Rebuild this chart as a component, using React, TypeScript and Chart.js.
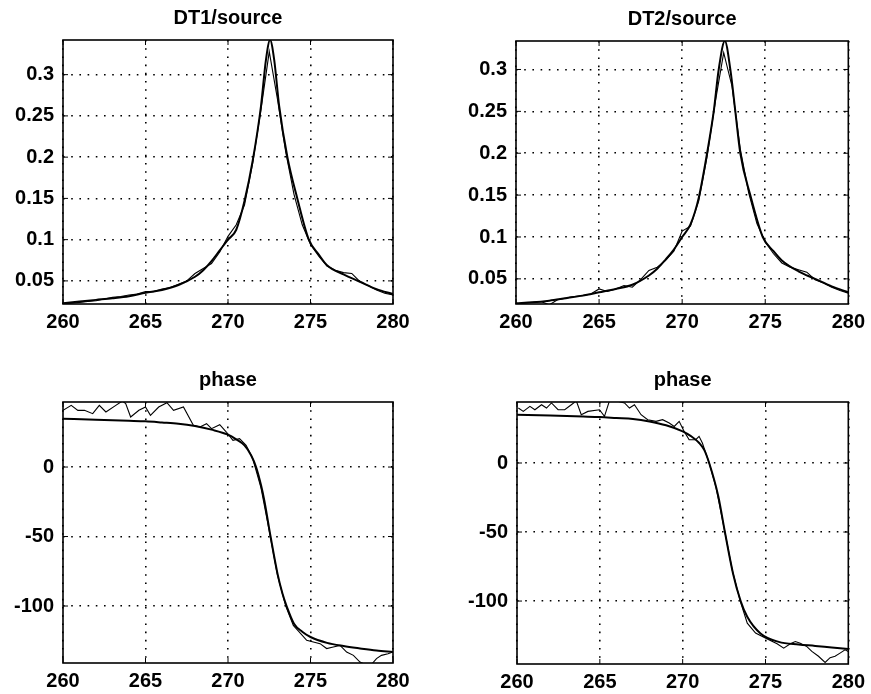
import React, { useEffect, useRef } from "react";
import { Chart, registerables } from "chart.js";

Chart.register(...registerables);

// ---------- tick values / labels ----------
const xTickValues = [260, 265, 270, 275, 280];
const xTickLabels = ["260", "265", "270", "275", "280"];
const ampTickValues = [0.05, 0.1, 0.15, 0.2, 0.25, 0.3];
const ampTickLabels = ["0.05", "0.1", "0.15", "0.2", "0.25", "0.3"];
const phaseTickValues = [-100, -50, 0];
const phaseTickLabels = ["-100", "-50", "0"];

// ---------- DT1/source ----------
const dt1FitX = [260, 261, 262, 263, 264, 265, 266, 267, 268, 268.5, 269, 269.5, 270, 270.5, 271, 271.5, 272, 272.3, 272.55, 272.8, 273.1, 273.6, 274.2, 274.9, 275.5, 276, 277, 278, 279, 280];
const dt1FitY = [0.023, 0.025, 0.027, 0.029, 0.0315, 0.0355, 0.039, 0.045, 0.055, 0.063, 0.074, 0.087, 0.1, 0.112, 0.147, 0.196, 0.262, 0.318, 0.342, 0.318, 0.262, 0.2, 0.15, 0.1, 0.082, 0.069, 0.058, 0.049, 0.04, 0.034];
const dt1MeasX = [260, 260.5, 261, 261.5, 262, 262.5, 263, 263.5, 264, 264.5, 265, 265.5, 266, 266.5, 267, 267.5, 268, 268.5, 269, 269.5, 270, 270.5, 271, 271.5, 272, 272.5, 273, 273.5, 274, 274.5, 275, 275.5, 276, 276.5, 277, 277.5, 278, 278.5, 279, 279.5, 280];
const dt1MeasY = [0.022, 0.023, 0.024, 0.025, 0.026, 0.028, 0.03, 0.031, 0.033, 0.034, 0.037, 0.037, 0.04, 0.042, 0.046, 0.05, 0.059, 0.065, 0.071, 0.085, 0.104, 0.118, 0.142, 0.193, 0.258, 0.328, 0.27, 0.206, 0.155, 0.118, 0.094, 0.08, 0.068, 0.063, 0.06, 0.059, 0.049, 0.044, 0.039, 0.035, 0.033];

// ---------- DT2/source ----------
const dt2FitX = [260, 261, 262, 263, 264, 265, 266, 267, 268, 268.5, 269, 269.5, 270, 270.5, 271, 271.5, 271.9, 272.2, 272.57, 272.9, 273.2, 273.5, 274.1, 274.85, 275.5, 276, 277, 278, 279, 280];
const dt2FitY = [0.021, 0.022, 0.024, 0.027, 0.03, 0.034, 0.038, 0.043, 0.054, 0.062, 0.073, 0.085, 0.1, 0.115, 0.147, 0.2, 0.25, 0.3, 0.334, 0.3, 0.25, 0.2, 0.15, 0.1, 0.083, 0.072, 0.059, 0.05, 0.041, 0.034];
const dt2MeasX = [260, 260.5, 261, 261.5, 262, 262.5, 263, 263.5, 264, 264.5, 265, 265.5, 266, 266.5, 267, 267.5, 268, 268.5, 269, 269.5, 270, 270.5, 271, 271.5, 272, 272.5, 273, 273.5, 274, 274.5, 275, 275.5, 276, 276.5, 277, 277.5, 278, 278.5, 279, 279.5, 280];
const dt2MeasY = [0.02, 0.021, 0.022, 0.023, 0.019, 0.025, 0.027, 0.029, 0.03, 0.032, 0.038, 0.035, 0.038, 0.042, 0.04, 0.049, 0.06, 0.064, 0.072, 0.083, 0.107, 0.113, 0.143, 0.196, 0.262, 0.32, 0.28, 0.205, 0.153, 0.116, 0.094, 0.08, 0.069, 0.064, 0.061, 0.058, 0.049, 0.045, 0.04, 0.036, 0.033];

// ---------- phase (left) ----------
const ph1FitX = [260, 262, 264, 265, 266, 267, 268, 269, 270, 270.5, 271, 271.4, 271.7, 272, 272.2, 272.58, 273, 273.3, 273.55, 274, 274.5, 275, 276, 277, 278, 279, 280];
const ph1FitY = [34.8, 34.0, 33.3, 32.9, 32.1, 31.2, 29.5, 26.9, 23.3, 19.9, 15.6, 8.5, 0, -13, -24, -50, -76.7, -91, -100, -112.7, -118.5, -122.3, -126.5, -128.8, -130.5, -132, -133];
const ph1MeasX = [260, 260.5, 260.9, 261.3, 261.8, 262.2, 262.6, 263.2, 263.6, 263.8, 264.1, 264.6, 265, 265.3, 265.8, 266.3, 266.7, 267.3, 267.9, 268.3, 268.7, 269, 269.5, 269.9, 270.3, 270.7, 271.1, 271.5, 272, 272.5, 273, 273.5, 273.96, 274.77, 275.58, 275.98, 276.38, 276.79, 277.19, 277.6, 278, 278.3, 278.7, 279, 279.3, 279.7, 280];
const ph1MeasY = [40.8, 44.4, 40.8, 40.8, 38.4, 44.4, 39.6, 44.4, 47.5, 45.6, 36.0, 40.8, 43.2, 37.2, 43.2, 46.3, 40.8, 43.2, 30.0, 28.8, 31.2, 27.6, 30.5, 25.2, 19.2, 20.4, 15.6, 6.0, -15, -46, -78, -100, -113.9, -124.7, -127.1, -130.6, -129.5, -128.3, -133.1, -135.5, -140.3, -142, -142, -137.8, -135.5, -134.3, -133.1];

// ---------- phase (right) ----------
const ph2FitX = [260, 262, 264, 265, 266, 267, 268, 269, 270, 270.5, 271, 271.3, 271.6, 272.15, 272.55, 273.04, 273.5, 273.9, 274.7, 275.8, 277, 278, 279, 280];
const ph2FitY = [35, 34.4, 33.7, 33.3, 32.6, 31.9, 30.1, 27.3, 22.9, 19.5, 14.5, 9.5, 0, -24, -50, -80, -100, -111.4, -123.5, -129.6, -131.5, -132.5, -133.7, -134.8];
const ph2MeasX = [260.08, 260.38, 260.78, 261.08, 261.48, 261.78, 262.08, 262.48, 262.88, 263.28, 263.58, 263.88, 264.28, 264.98, 265.28, 265.58, 265.98, 266.49, 266.79, 267.09, 267.49, 267.89, 268.39, 268.79, 269.19, 269.49, 269.79, 270.09, 270.39, 270.79, 270.99, 271.19, 271.6, 272, 272.5, 273, 273.5, 273.9, 274.4, 275.2, 275.7, 276.1, 276.5, 276.8, 277.1, 277.5, 277.8, 278.2, 278.6, 278.9, 279.2, 279.5, 279.8, 280];
const ph2MeasY = [39.8, 37.4, 41, 38.6, 42.2, 39.8, 43.5, 38.6, 38.6, 42.2, 45, 35, 37.4, 38.6, 33.8, 45, 45, 43.5, 39.8, 42.2, 35, 31.4, 30.2, 31.4, 29, 26.5, 30.2, 22.9, 16.9, 16.9, 19.3, 14.5, 0, -17, -47, -78, -101, -116, -123.2, -128, -131, -134.1, -131, -129.3, -130.5, -133, -136.5, -140, -144.5, -141, -140, -137.7, -135.3, -136.5];

const FONT_FAMILY = '"Liberation Sans", Arial, Helvetica, sans-serif';
const FONT_SIZE = 20;
const FONT_WEIGHT = "bold";
const Y_AXIS_W = 55;
const X_AXIS_H = 28;

type Panel = {
  key: string;
  left: number;
  top: number;
  width: number;
  height: number;
  padding: { left: number; top: number; right: number; bottom: number };
  title: string;
  yMin: number;
  yMax: number;
  yTicks: number[];
  yLabels: string[];
  fitX: number[];
  fitY: number[];
  measX: number[];
  measY: number[];
};

const panels: Panel[] = [
  {
    key: "tl", left: 0, top: 0, width: 435, height: 347,
    padding: { left: 8, top: 40, right: 42, bottom: 15 },
    title: "DT1/source", yMin: 0.022, yMax: 0.342,
    yTicks: ampTickValues, yLabels: ampTickLabels,
    fitX: dt1FitX, fitY: dt1FitY, measX: dt1MeasX, measY: dt1MeasY,
  },
  {
    key: "tr", left: 435, top: 0, width: 436, height: 347,
    padding: { left: 26, top: 41, right: 22, bottom: 15 },
    title: "DT2/source", yMin: 0.02, yMax: 0.334,
    yTicks: ampTickValues, yLabels: ampTickLabels,
    fitX: dt2FitX, fitY: dt2FitY, measX: dt2MeasX, measY: dt2MeasY,
  },
  {
    key: "bl", left: 0, top: 347, width: 435, height: 347,
    padding: { left: 8, top: 55, right: 42, bottom: 3 },
    title: "phase", yMin: -141, yMax: 46.8,
    yTicks: phaseTickValues, yLabels: phaseTickLabels,
    fitX: ph1FitX, fitY: ph1FitY, measX: ph1MeasX, measY: ph1MeasY,
  },
  {
    key: "br", left: 435, top: 347, width: 436, height: 347,
    padding: { left: 27, top: 55, right: 21, bottom: 2 },
    title: "phase", yMin: -145.6, yMax: 44.2,
    yTicks: phaseTickValues, yLabels: phaseTickLabels,
    fitX: ph2FitX, fitY: ph2FitY, measX: ph2MeasX, measY: ph2MeasY,
  },
];

function labelFor(values: number[], labels: string[], v: number): string {
  for (let i = 0; i < values.length; i++) {
    if (Math.abs(values[i] - v) < 1e-9) return labels[i];
  }
  return "";
}

function PanelChart({ p }: { p: Panel }) {
  const ref = useRef<HTMLCanvasElement | null>(null);

  useEffect(() => {
    const canvas = ref.current;
    if (!canvas) return;

    const framePlugin = {
      id: "frame_" + p.key,
      afterDatasetsDraw(chart: any) {
        const { ctx, chartArea } = chart;
        const { left, top, right, bottom } = chartArea;
        ctx.save();
        ctx.strokeStyle = "#000";
        ctx.lineWidth = 1.6;
        ctx.setLineDash([]);
        ctx.strokeRect(left, top, right - left, bottom - top);
        const tl = 5;
        ctx.lineWidth = 1;
        const xs = chart.scales.x;
        const ys = chart.scales.y;
        ctx.beginPath();
        xTickValues.forEach((v) => {
          const px = xs.getPixelForValue(v);
          ctx.moveTo(px, bottom);
          ctx.lineTo(px, bottom - tl);
          ctx.moveTo(px, top);
          ctx.lineTo(px, top + tl);
        });
        p.yTicks.forEach((v) => {
          const py = ys.getPixelForValue(v);
          ctx.moveTo(left, py);
          ctx.lineTo(left + tl, py);
          ctx.moveTo(right, py);
          ctx.lineTo(right - tl, py);
        });
        ctx.stroke();
        ctx.restore();
      },
    };

    const titlePlugin = {
      id: "ttl_" + p.key,
      afterDraw(chart: any) {
        const { ctx, chartArea } = chart;
        ctx.save();
        ctx.fillStyle = "#000";
        ctx.font = `${FONT_WEIGHT} ${FONT_SIZE}px ${FONT_FAMILY}`;
        ctx.textAlign = "center";
        ctx.textBaseline = "alphabetic";
        ctx.fillText(p.title, (chartArea.left + chartArea.right) / 2, chartArea.top - 16);
        ctx.restore();
      },
    };

    const tickFont = { family: FONT_FAMILY, size: FONT_SIZE, weight: FONT_WEIGHT };

    const chart = new Chart(canvas, {
      type: "line",
      data: {
        datasets: [
          {
            label: "measured",
            data: p.measX.map((x, i) => ({ x, y: p.measY[i] })),
            borderColor: "#000",
            borderWidth: 1.1,
            pointRadius: 0,
            tension: 0,
            fill: false,
          },
          {
            label: "fit",
            data: p.fitX.map((x, i) => ({ x, y: p.fitY[i] })),
            borderColor: "#000",
            borderWidth: 2,
            pointRadius: 0,
            cubicInterpolationMode: "monotone",
            fill: false,
          },
        ],
      },
      options: {
        responsive: false,
        maintainAspectRatio: false,
        animation: false,
        events: [],
        layout: { padding: p.padding },
        plugins: {
          legend: { display: false },
          tooltip: { enabled: false },
          title: { display: false },
        },
        scales: {
          x: {
            type: "linear",
            bounds: "data",
            min: 260,
            max: 280,
            afterBuildTicks: (s: any) => {
              s.ticks = xTickValues.map((v) => ({ value: v }));
            },
            afterFit: (s: any) => {
              s.height = X_AXIS_H;
            },
            grid: { color: "#000", lineWidth: 1.6, drawTicks: false },
            border: { display: false, dash: [1.6, 6.6] },
            ticks: {
              color: "#000",
              font: tickFont,
              padding: 6,
              maxRotation: 0,
              autoSkip: false,
              callback: (v: any) => labelFor(xTickValues, xTickLabels, Number(v)),
            },
          },
          y: {
            type: "linear",
            bounds: "data",
            min: p.yMin,
            max: p.yMax,
            afterBuildTicks: (s: any) => {
              s.ticks = p.yTicks.map((v) => ({ value: v }));
            },
            afterFit: (s: any) => {
              s.width = Y_AXIS_W;
            },
            grid: { color: "#000", lineWidth: 1.6, drawTicks: false },
            border: { display: false, dash: [1.6, 6.6] },
            ticks: {
              color: "#000",
              font: tickFont,
              padding: 9,
              autoSkip: false,
              callback: (v: any) => labelFor(p.yTicks, p.yLabels, Number(v)),
            },
          },
        },
      },
      plugins: [framePlugin, titlePlugin],
    } as any);

    return () => {
      chart.destroy();
    };
  }, [p]);

  return (
    <canvas
      ref={ref}
      width={p.width}
      height={p.height}
      style={{
        position: "absolute",
        left: p.left,
        top: p.top,
        width: p.width,
        height: p.height,
        display: "block",
      }}
    />
  );
}

export default function App() {
  return (
    <div
      style={{
        position: "absolute",
        left: 0,
        top: 0,
        width: 871,
        height: 694,
        background: "#fff",
        overflow: "hidden",
      }}
    >
      {panels.map((p) => (
        <PanelChart key={p.key} p={p} />
      ))}
    </div>
  );
}
